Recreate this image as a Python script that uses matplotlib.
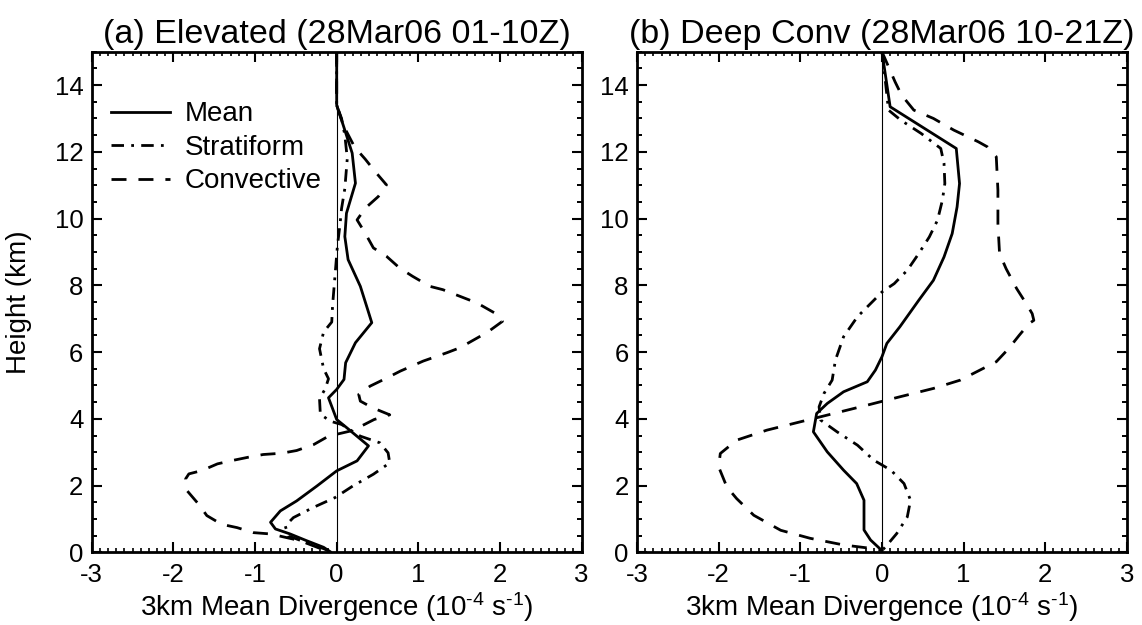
import matplotlib
matplotlib.use("Agg")
import matplotlib.pyplot as plt
from matplotlib.ticker import MultipleLocator

plt.rcParams['font.family'] = ['Liberation Sans', 'DejaVu Sans']
plt.rcParams['mathtext.fontset'] = 'custom'
plt.rcParams['mathtext.rm'] = 'Liberation Sans'
plt.rcParams['mathtext.default'] = 'regular'
plt.rcParams['axes.unicode_minus'] = False

# (a) elevated case, 28 Mar 06 01-10Z  -- divergence (1e-4 s-1) vs height (km)
a_mean_div = [0.0, 0.0, 0.08, 0.19, 0.23, 0.12, 0.10, 0.14, 0.29, 0.37, 0.43, 0.23, 0.11,
              0.09, 0.0, -0.10, 0.0, 0.12, 0.39, 0.25, 0.0, -0.24, -0.49, -0.69, -0.81,
              -0.75, -0.57, -0.37, -0.16, -0.08]
a_mean_z = [15.0, 13.4, 12.8, 11.96, 11.06, 10.16, 9.46, 8.77, 7.97, 7.35, 6.88, 6.28, 5.68,
            5.18, 4.88, 4.63, 3.98, 3.74, 3.19, 2.74, 2.44, 1.99, 1.54, 1.24, 0.90,
            0.70, 0.55, 0.35, 0.15, 0.02]

a_strat_div = [0.0, 0.0, 0.06, 0.10, 0.13, 0.10, 0.06, 0.04, 0.01, -0.02, -0.05, -0.06, -0.16,
               -0.21, -0.16, -0.10, -0.14, -0.21, -0.20, -0.08, 0.06, 0.29, 0.53, 0.63, 0.65,
               0.45, 0.20, -0.02, -0.29, -0.53, -0.63, -0.59, -0.37, -0.16, -0.08]
a_strat_z = [15.0, 13.4, 13.0, 12.5, 11.8, 10.9, 10.3, 9.8, 9.2, 8.3, 7.4, 6.9, 6.6,
             6.1, 5.5, 5.2, 4.9, 4.6, 4.14, 3.93, 3.83, 3.48, 3.28, 2.98, 2.68,
             2.34, 1.99, 1.64, 1.34, 1.04, 0.79, 0.49, 0.29, 0.11, 0.02]

a_conv_div = [0.0, 0.0, 0.08, 0.22, 0.35, 0.47, 0.61, 0.51, 0.35, 0.25, 0.35, 0.45, 0.61,
              0.77, 0.93, 1.14, 1.30, 1.51, 1.72, 1.95, 2.03, 1.85, 1.51, 1.35, 1.06, 0.78,
              0.62, 0.41, 0.27, 0.29, 0.44, 0.65, 0.46, 0.34, 0.18, -0.10, -0.28, -0.49,
              -0.67, -0.90, -1.08, -1.28, -1.46, -1.65, -1.81, -1.85, -1.83, -1.69, -1.59,
              -1.41, -1.22, -1.02, -0.81, -0.63, -0.45, -0.10]
a_conv_z = [15.0, 13.4, 12.8, 12.14, 11.78, 11.41, 11.01, 10.66, 10.31, 9.96, 9.56, 9.12, 8.87,
            8.52, 8.27, 7.97, 7.87, 7.67, 7.47, 7.15, 6.92, 6.6, 6.13, 5.98, 5.73, 5.43,
            5.23, 4.98, 4.73, 4.53, 4.33, 4.12, 3.98, 3.83, 3.64, 3.48, 3.23, 3.05,
            2.97, 2.93, 2.85, 2.75, 2.65, 2.45, 2.35, 2.2, 1.84, 1.44, 1.1,
            0.84, 0.74, 0.59, 0.55, 0.45, 0.35, 0.02]

# (b) deep convection, 28 Mar 06 10-21Z
b_mean_div = [0.0, 0.10, 0.91, 0.95, 0.92, 0.86, 0.76, 0.63, 0.45, 0.22, 0.06, 0.0, -0.08,
              -0.18, -0.47, -0.67, -0.80, -0.84, -0.67, -0.47, -0.31, -0.22, -0.22, -0.22,
              -0.14, 0.0]
b_mean_z = [15.0, 13.35, 12.1, 11.05, 10.35, 9.55, 8.85, 8.15, 7.55, 6.76, 6.26, 5.86, 5.46,
            5.11, 4.81, 4.46, 4.16, 3.61, 3.01, 2.46, 2.06, 1.56, 1.06, 0.67,
            0.37, 0.05]

b_strat_div = [0.0, 0.02, 0.08, 0.23, 0.48, 0.72, 0.76, 0.77, 0.74, 0.68, 0.58, 0.45, 0.31,
               0.15, 0.0, -0.10, -0.30, -0.47, -0.57, -0.61, -0.71, -0.77, -0.75, -0.55,
               -0.30, -0.10, 0.11, 0.27, 0.35, 0.31, 0.18, 0.06, 0.0]
b_strat_z = [15.0, 14.6, 13.25, 12.95, 12.55, 12.1, 11.65, 11.05, 10.55, 9.95, 9.45, 8.95, 8.45,
             8.05, 7.8, 7.55, 7.06, 6.46, 5.76, 5.16, 4.76, 4.36, 3.96, 3.61,
             3.21, 2.76, 2.46, 2.06, 1.56, 1.06, 0.56, 0.21, 0.05]

b_conv_div = [0.0, 0.16, 0.24, 0.39, 0.63, 0.88, 1.18, 1.29, 1.40, 1.42, 1.42, 1.44, 1.52,
              1.65, 1.78, 1.84, 1.86, 1.80, 1.68, 1.55, 1.40, 1.24, 0.96, 0.63, 0.22, -0.18,
              -0.59, -1.0, -1.41, -1.78, -1.98, -2.0, -1.90, -1.78, -1.57, -1.24, -0.88,
              -0.47, -0.14, 0.0]
b_conv_z = [15.0, 14.1, 13.7, 13.25, 13.0, 12.65, 12.3, 12.15, 11.85, 10.85, 9.85, 8.95, 8.5,
            7.9, 7.4, 7.15, 6.95, 6.85, 6.5, 6.1, 5.71, 5.51, 5.16, 4.91, 4.66, 4.41,
            4.16, 3.91, 3.66, 3.36, 2.96, 2.56, 1.96, 1.61, 1.11, 0.66, 0.42,
            0.22, 0.12, 0.05]

titles = ['(a) Elevated (28Mar06 01-10Z)', '(b) Deep Conv (28Mar06 10-21Z)']
xlabel = r'3km Mean Divergence (10$^{\text{-4}}$ s$^{\text{-1}}$)'

fig = plt.figure(figsize=(11.42, 6.25), dpi=100)
ax_a = fig.add_axes([0.0803, 0.1163, 0.429, 0.801])
ax_b = fig.add_axes([0.5578, 0.1163, 0.429, 0.801])

dash = (5.4, 4.3)
dashdot = (4.5, 2.6, 1.0, 2.6)

panels = [
    (ax_a, (a_mean_div, a_mean_z), (a_strat_div, a_strat_z), (a_conv_div, a_conv_z)),
    (ax_b, (b_mean_div, b_mean_z), (b_strat_div, b_strat_z), (b_conv_div, b_conv_z)),
]

for i, (ax, mean, strat, conv) in enumerate(panels):
    ax.axvline(0, color='black', lw=0.8, zorder=1)
    ax.plot(mean[0], mean[1], color='black', lw=2, label='Mean')
    ax.plot(strat[0], strat[1], color='black', lw=2, dashes=dashdot, label='Stratiform')
    ax.plot(conv[0], conv[1], color='black', lw=2, dashes=dash, label='Convective')

    ax.set_xlim(-3, 3)
    ax.set_ylim(0, 15)
    ax.xaxis.set_major_locator(MultipleLocator(1))
    ax.xaxis.set_minor_locator(MultipleLocator(0.1))
    ax.yaxis.set_major_locator(MultipleLocator(2))
    ax.yaxis.set_minor_locator(MultipleLocator(0.5))
    ax.tick_params(which='both', direction='in', top=True, right=True)
    ax.tick_params(which='major', length=7, width=1.5, labelsize=18.5)
    ax.tick_params(axis='x', which='major', pad=8)
    ax.tick_params(axis='y', which='major', pad=6)
    ax.tick_params(axis='x', which='minor', length=3, width=1.2)
    ax.tick_params(axis='y', which='minor', length=3.5, width=1.4)
    for sp in ax.spines.values():
        sp.set_linewidth(2)

    ax.set_title(titles[i], fontsize=24.5, pad=6)
    ax.set_xlabel(xlabel, fontsize=20, labelpad=2)

ax_a.set_ylabel('Height (km)', fontsize=20)
ax_a.yaxis.set_label_coords(-0.122, 0.5)

ax_a.legend(loc='upper left', bbox_to_anchor=(0.04, 0.901), frameon=False, fontsize=20,
            handlelength=2.1, handletextpad=0.55, labelspacing=0.27,
            borderpad=0, borderaxespad=0)

fig.savefig('out.png', dpi=100, facecolor='white')
